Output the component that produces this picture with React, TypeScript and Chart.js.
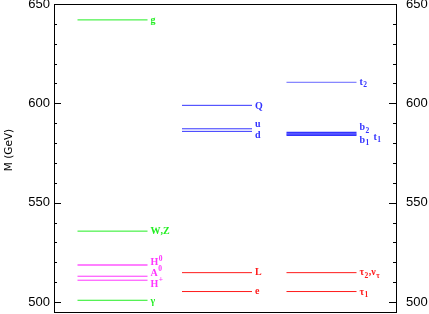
import React, { useEffect, useRef } from "react";
import { Chart, registerables } from "chart.js";
Chart.register(...registerables);

// ---- data ----
const columns = [1, 2, 3];
const gaugeHiggsLabels = ["g", "W,Z", "H^0", "A^0", "H^+", "γ"];
const gaugeHiggsMasses = [642.0, 535.7, 518.7, 513.0, 511.0, 500.9];
const squarkSleptonLabels = ["Q", "u", "d", "L", "e"];
const squarkSleptonMasses = [599.0, 587.2, 585.9, 514.8, 505.3];
const thirdGenLabels = ["t_2", "b_2", "t_1", "b_1", "τ_2,ν_τ", "τ_1"];
const thirdGenMasses = [610.6, 585.3, 584.6, 584.0, 514.8, 505.3];
const yTicks = [500, 550, 600, 650];
const yMinorStep = 10;
const yMin = 495;
const yMax = 650;
const yTitle = "M (GeV)";

// ---- styles ----
const GREEN = "#22ee22";
const MAGENTA = "#ff33ff";
const BLUE = "#3333ff";
const RED = "#ff1a1a";
type Sty = { c: string; lc?: string; w?: number; dx?: number; dy?: number };
const styles: Record<string, Sty> = {
  "g": { c: GREEN, dy: 1 },
  "W,Z": { c: GREEN },
  "H^0": { c: "#ff80ff", lc: MAGENTA, w: 2, dy: -2 },
  "A^0": { c: MAGENTA, dy: -3 },
  "H^+": { c: MAGENTA, dy: 4 },
  "γ": { c: GREEN, dy: 1 },
  "Q": { c: BLUE, dy: 1 },
  "u": { c: BLUE, dy: -4 },
  "d": { c: BLUE, dy: 4 },
  "L": { c: RED },
  "e": { c: RED },
  "t_2": { c: "#6666ff", lc: BLUE, dy: 0 },
  "b_2": { c: BLUE, w: 1.5, dy: -5 },
  "t_1": { c: BLUE, w: 1.5, dx: 14, dy: 3 },
  "b_1": { c: BLUE, w: 1.5, dy: 5 },
  "τ_2,ν_τ": { c: RED },
  "τ_1": { c: RED, dy: 1 },
};
const HALF = 0.335;

function buildDatasets() {
  const groups = [
    { col: columns[0], labels: gaugeHiggsLabels, masses: gaugeHiggsMasses },
    { col: columns[1], labels: squarkSleptonLabels, masses: squarkSleptonMasses },
    { col: columns[2], labels: thirdGenLabels, masses: thirdGenMasses },
  ];
  const ds: any[] = [];
  groups.forEach((g) => {
    g.labels.forEach((lab, i) => {
      const s = styles[lab];
      ds.push({
        label: lab,
        data: [
          { x: g.col - HALF, y: g.masses[i] },
          { x: g.col + HALF, y: g.masses[i] },
        ],
        borderColor: s.c,
        borderWidth: s.w ?? 1,
        pointRadius: 0,
        fill: false,
        yAxisID: "y",
      });
    });
  });
  return ds;
}

function drawRich(ctx: CanvasRenderingContext2D, text: string, x: number, y: number, color: string) {
  const base = "bold 10px 'Liberation Serif', serif";
  const small = "bold 7.5px 'Liberation Serif', serif";
  ctx.fillStyle = color;
  ctx.textBaseline = "middle";
  ctx.textAlign = "left";
  let cx = x;
  for (let i = 0; i < text.length; i++) {
    const ch = text[i];
    if ((ch === "_" || ch === "^") && i + 1 < text.length) {
      const n = text[i + 1];
      ctx.font = small;
      ctx.fillText(n, cx + 0.5, y + (ch === "_" ? 3 : -4));
      cx += ctx.measureText(n).width + 1;
      i++;
    } else {
      ctx.font = base;
      ctx.fillText(ch, cx, y);
      cx += ctx.measureText(ch).width;
    }
  }
}

const decorPlugin = {
  id: "decor",
  afterDatasetsDraw(chart: any) {
    const ctx = chart.ctx as CanvasRenderingContext2D;
    chart.data.datasets.forEach((d: any, i: number) => {
      const meta = chart.getDatasetMeta(i);
      const p = meta.data[1];
      const s = styles[d.label];
      drawRich(ctx, d.label, p.x + 3 + (s.dx ?? 0), p.y + (s.dy ?? 0), s.lc ?? s.c);
    });
  },
  afterDraw(chart: any) {
    const ctx = chart.ctx as CanvasRenderingContext2D;
    const a = chart.chartArea;
    const ys = chart.scales.y;
    ctx.save();
    ctx.strokeStyle = "#000";
    ctx.lineWidth = 1;
    ctx.strokeRect(Math.round(a.left) + 0.5, Math.round(a.top) + 0.5, Math.round(a.right - a.left), Math.round(a.bottom - a.top));
    ctx.beginPath();
    for (let v = Math.ceil(yMin / yMinorStep) * yMinorStep; v <= yMax; v += yMinorStep) {
      const py = Math.round(ys.getPixelForValue(v)) + 0.5;
      const len = yTicks.includes(v) ? 7 : 3;
      ctx.moveTo(a.left, py);
      ctx.lineTo(a.left + len, py);
      ctx.moveTo(a.right, py);
      ctx.lineTo(a.right - len, py);
    }
    ctx.stroke();
    // y title
    ctx.translate(9, (a.top + a.bottom) / 2 - 8);
    ctx.rotate(-Math.PI / 2);
    ctx.fillStyle = "#000";
    ctx.font = "10.5px 'DejaVu Sans', sans-serif";
    ctx.textAlign = "center";
    ctx.textBaseline = "middle";
    ctx.fillText(yTitle, 0, 0);
    ctx.restore();
  },
};

export default function App() {
  const ref = useRef<HTMLCanvasElement>(null);
  useEffect(() => {
    const tickFont = { family: "'Liberation Sans', Arial, sans-serif", size: 13 };
    const axisCommon = (pos: string, width: number, pad: number) => ({
      type: "linear",
      position: pos,
      min: yMin,
      max: yMax,
      grid: { display: false, drawTicks: false },
      border: { display: false },
      ticks: { color: "#000", font: tickFont, padding: pad },
      afterBuildTicks: (sc: any) => {
        sc.ticks = yTicks.map((v) => ({ value: v }));
      },
      afterFit: (sc: any) => {
        sc.width = width;
        sc.paddingTop = 0;
        sc.paddingBottom = 0;
      },
    });
    const chart = new Chart(ref.current!, {
      type: "line",
      data: { datasets: buildDatasets() },
      options: {
        animation: false,
        responsive: false,
        maintainAspectRatio: false,
        parsing: true,
        layout: { padding: { top: 4, bottom: 2, left: 0, right: 0 } },
        plugins: { legend: { display: false }, tooltip: { enabled: false } },
        scales: {
          x: { type: "linear", min: 0.44, max: 3.713, display: false },
          y: axisCommon("left", 54, 4) as any,
          y2: axisCommon("right", 33, 10) as any,
        },
      },
      plugins: [decorPlugin],
    });
    return () => chart.destroy();
  }, []);
  return (
    <div style={{ position: "fixed", left: 0, top: 0, width: 429, height: 314, background: "#fff" }}>
      <canvas ref={ref} width={429} height={314} style={{ display: "block" }} />
    </div>
  );
}
